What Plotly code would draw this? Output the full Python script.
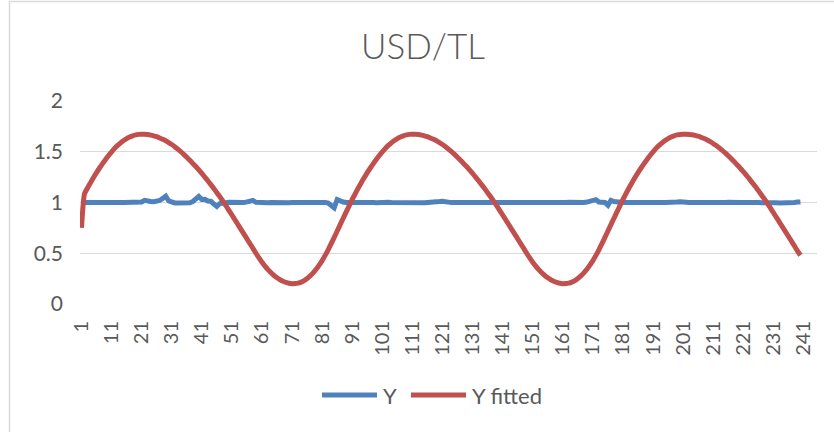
import plotly.graph_objects as go

# Observation index (1..240) and axis labels every 10 observations
days = list(range(1, 241))
tick_days = list(range(1, 242, 10))
tick_labels = [str(d) for d in tick_days]

# Y: observed USD/TL series (normalised)
y_observed = [
    1.000, 1.001, 0.999, 1.000, 1.002, 1.000, 0.999, 1.001, 1.000, 1.001,
    1.000, 0.999, 1.000, 1.001, 1.000, 1.000, 1.002, 1.001, 1.000, 1.003,
    1.005, 1.022, 1.012, 1.010, 1.008, 1.012, 1.020, 1.040, 1.062, 1.015,
    1.000, 0.996, 0.995, 0.996, 0.994, 0.996, 0.998, 1.010, 1.030, 1.060,
    1.030, 1.032, 1.015, 1.012, 0.985, 0.962, 0.990, 1.000, 0.998, 1.002,
    1.000, 0.997, 1.003, 1.005, 0.999, 1.006, 1.012, 1.020, 1.002, 0.998,
    1.000, 0.997, 0.998, 1.001, 0.999, 0.997, 1.000, 1.002, 0.999, 0.998,
    1.000, 1.001, 0.999, 1.000, 0.998, 1.001, 1.000, 0.999, 1.002, 1.000,
    0.999, 1.001, 0.995, 0.975, 0.948, 1.030, 1.012, 1.005, 1.000, 0.998,
    1.000, 0.999, 1.001, 0.997, 1.000, 0.999, 1.003, 1.000, 0.998, 1.001,
    1.000, 0.997, 1.002, 1.000, 0.999, 1.001, 0.998, 1.000, 1.001, 0.999,
    1.000, 1.002, 0.999, 1.000, 0.998, 1.001, 1.000, 1.002, 1.005, 1.009,
    1.012, 1.004, 1.000, 0.999, 1.001, 1.000, 0.998, 1.000, 1.001, 0.999,
    1.000, 1.001, 0.999, 1.000, 1.002, 1.000, 0.999, 1.001, 1.000, 0.998,
    1.000, 1.001, 1.000, 0.999, 1.002, 1.000, 0.998, 1.001, 1.000, 0.999,
    1.001, 1.000, 0.998, 1.000, 1.002, 0.999, 1.000, 1.001, 0.999, 1.000,
    0.998, 1.000, 1.002, 1.000, 0.999, 1.001, 1.003, 1.000, 1.004, 1.008,
    1.015, 1.028, 1.005, 0.998, 1.000, 0.972, 1.022, 1.010, 1.003, 1.000,
    0.999, 1.001, 1.000, 0.998, 1.002, 1.000, 0.999, 1.001, 1.000, 0.998,
    1.000, 1.002, 0.999, 1.000, 1.001, 0.999, 1.000, 1.002, 1.004, 1.008,
    1.010, 1.003, 1.000, 0.999, 1.001, 1.000, 0.998, 1.000, 1.002, 1.000,
    0.999, 1.001, 1.000, 0.998, 1.000, 1.002, 0.999, 1.000, 1.001, 0.999,
    1.000, 1.002, 1.000, 0.999, 1.001, 1.000, 0.998, 1.000, 1.001, 0.999,
    1.000, 0.998, 0.996, 0.995, 0.992, 0.994, 0.997, 1.000, 1.004, 1.006,
]

# Y fitted: model output
y_fitted = [
    0.750, 1.087, 1.143, 1.195, 1.246, 1.294, 1.340, 1.383, 1.424, 1.463,
    1.499, 1.533, 1.562, 1.588, 1.611, 1.630, 1.645, 1.657, 1.666, 1.671,
    1.673, 1.672, 1.669, 1.664, 1.657, 1.648, 1.636, 1.623, 1.608, 1.590,
    1.571, 1.550, 1.526, 1.501, 1.474, 1.446, 1.416, 1.385, 1.354, 1.321,
    1.286, 1.251, 1.214, 1.176, 1.137, 1.097, 1.056, 1.013, 0.969, 0.923,
    0.877, 0.830, 0.783, 0.736, 0.689, 0.642, 0.595, 0.548, 0.500, 0.454,
    0.412, 0.373, 0.339, 0.308, 0.281, 0.258, 0.239, 0.224, 0.212, 0.204,
    0.200, 0.201, 0.206, 0.216, 0.231, 0.251, 0.277, 0.307, 0.342, 0.383,
    0.428, 0.479, 0.534, 0.594, 0.656, 0.719, 0.782, 0.845, 0.907, 0.969,
    1.030, 1.087, 1.143, 1.195, 1.246, 1.294, 1.340, 1.383, 1.424, 1.463,
    1.499, 1.533, 1.562, 1.588, 1.611, 1.630, 1.645, 1.657, 1.666, 1.671,
    1.673, 1.672, 1.669, 1.664, 1.657, 1.648, 1.636, 1.623, 1.608, 1.590,
    1.571, 1.550, 1.526, 1.501, 1.474, 1.446, 1.416, 1.385, 1.354, 1.321,
    1.286, 1.251, 1.214, 1.176, 1.137, 1.097, 1.056, 1.013, 0.969, 0.923,
    0.877, 0.830, 0.783, 0.736, 0.689, 0.642, 0.595, 0.548, 0.500, 0.454,
    0.412, 0.373, 0.339, 0.308, 0.281, 0.258, 0.239, 0.224, 0.212, 0.204,
    0.200, 0.201, 0.206, 0.216, 0.231, 0.251, 0.277, 0.307, 0.342, 0.383,
    0.428, 0.479, 0.534, 0.594, 0.656, 0.719, 0.782, 0.845, 0.907, 0.969,
    1.030, 1.087, 1.143, 1.195, 1.246, 1.294, 1.340, 1.383, 1.424, 1.463,
    1.499, 1.533, 1.562, 1.588, 1.611, 1.630, 1.645, 1.657, 1.666, 1.671,
    1.672, 1.672, 1.670, 1.667, 1.661, 1.653, 1.642, 1.630, 1.616, 1.599,
    1.581, 1.561, 1.538, 1.514, 1.488, 1.460, 1.431, 1.401, 1.370, 1.338,
    1.304, 1.269, 1.233, 1.195, 1.157, 1.117, 1.077, 1.035, 0.991, 0.946,
    0.900, 0.854, 0.807, 0.760, 0.713, 0.666, 0.619, 0.572, 0.524, 0.480,
]

series_names = ["Y", "Y fitted"]

BLUE = "#4F81BD"
RED = "#C0504D"
TEXT = "#595959"
GRID = "#D9D9D9"
LINE_W = 5

# Plot-area geometry in pixels (used to place the frame and the legend)
W, H = 834, 432
ML, MR, MT, MB = 80, 17, 101, 128
pw, ph = W - ML - MR, H - MT - MB


def px_x(p):
    return (p - ML) / pw


def px_y(p):
    return (H - MB - p) / ph


fig = go.Figure()
fig.add_trace(go.Scatter(
    x=days, y=y_observed, name=series_names[0], mode="lines",
    line=dict(color=BLUE, width=LINE_W),
))
fig.add_trace(go.Scatter(
    x=days, y=y_fitted, name=series_names[1], mode="lines",
    line=dict(color=RED, width=LINE_W, shape="spline", smoothing=0.6),
))

# Legend drawn as line swatches with text beside them
legend_y = px_y(395)
legend_items = [(322, 377, 381, series_names[0], BLUE),
                (411, 466, 470, series_names[1], RED)]
shapes = [dict(
    type="rect", xref="paper", yref="paper",
    x0=px_x(9.5), x1=px_x(836), y0=px_y(445), y1=px_y(1.5),
    line=dict(color=GRID, width=1.5), fillcolor="rgba(0,0,0,0)",
    layer="below",
)]
annotations = []
for x0, x1, xt, label, color in legend_items:
    shapes.append(dict(
        type="line", xref="paper", yref="paper",
        x0=px_x(x0), x1=px_x(x1), y0=legend_y, y1=legend_y,
        line=dict(color=color, width=LINE_W),
    ))
    annotations.append(dict(
        text=label, xref="paper", yref="paper", x=px_x(xt), y=legend_y,
        xanchor="left", yanchor="middle", showarrow=False,
        font=dict(family="Lato", size=22, color=TEXT),
    ))

fig.update_layout(
    width=W, height=H,
    margin=dict(l=ML, r=MR, t=MT, b=MB),
    paper_bgcolor="white", plot_bgcolor="white",
    font=dict(family="Lato", color=TEXT),
    title=dict(
        text="USD/TL", x=px_x(423), xref="paper", xanchor="center",
        y=1 - 47 / H, yref="container", yanchor="middle",
        font=dict(family="Lato", size=35, color=TEXT, weight=300),
    ),
    showlegend=False,
    xaxis=dict(
        range=[0.5, 245.5], tickmode="array", tickvals=tick_days,
        ticktext=tick_labels, tickangle=-90, showgrid=False,
        zeroline=False, showline=False, ticks="",
        tickfont=dict(size=20, color=TEXT), ticklabelstandoff=12,
    ),
    yaxis=dict(
        range=[0, 2], dtick=0.5, tick0=0, showgrid=True, gridcolor=GRID,
        gridwidth=1, zeroline=False, showline=False, ticks="",
        tickfont=dict(size=21, color=TEXT), ticklabelstandoff=16,
    ),
    shapes=shapes,
    annotations=annotations,
)

fig.write_html("out.html")
